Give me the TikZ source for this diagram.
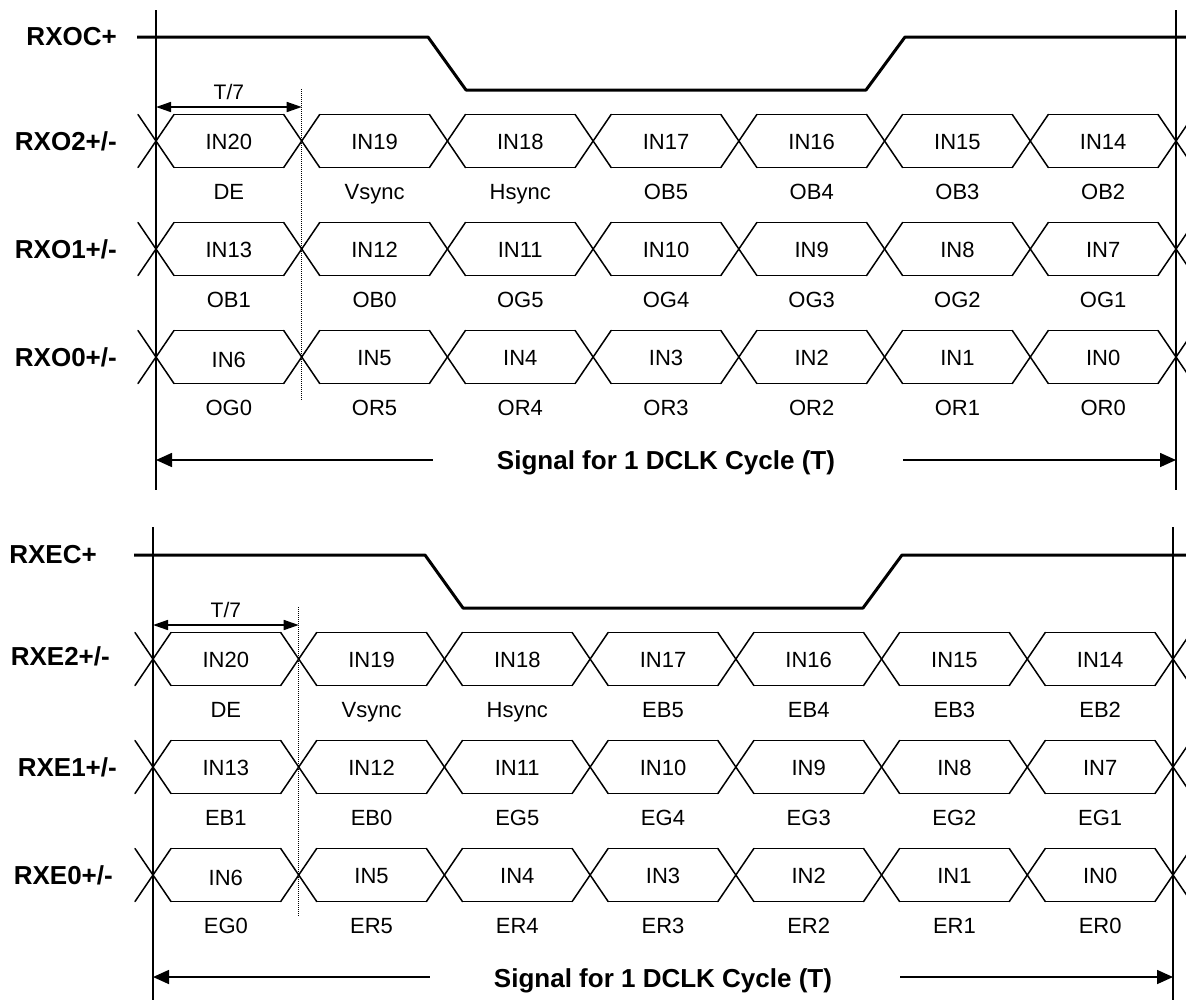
\documentclass[tikz,border=0pt]{standalone}
\usepackage{fontspec}
\setmainfont{Liberation Sans}
\usetikzlibrary{arrows.meta}
\newcommand\datarow[4]{%
  \foreach \k in {0,...,7}{
    \draw[sig] ({156+\k*145.714-18},{#1+26.5}) -- ({156+\k*145.714+18},{#1-26.5});
    \draw[sig] ({156+\k*145.714-18},{#1-26.5}) -- ({156+\k*145.714+18},{#1+26.5});
  }
  \foreach \k in {0,...,6}{
    \draw[sig] ({156+\k*145.714+18},{#1-26.5}) -- ({156+(\k+1)*145.714-18},{#1-26.5});
    \draw[sig] ({156+\k*145.714+18},{#1+26.5}) -- ({156+(\k+1)*145.714-18},{#1+26.5});
  }
  \foreach \t [count=\i from 0] in {#2}
    \node[dat] (#4in\i) at ({156+72.857+\i*145.714},{#1+8}) {\t};
  \foreach \t [count=\i from 0] in {#3}
    \node[dat] (#4sub\i) at ({156+72.857+\i*145.714},{#1+58}) {\t};
}
\begin{document}
\begin{tikzpicture}[x=1pt,y=-1pt,
  sig/.style={line width=1.5pt,line cap=round,line join=round},
  clk/.style={line width=3pt,line join=round},
  edge/.style={line width=1.5pt},
  dat/.style={font=\fontsize{22}{26}\selectfont,inner sep=0pt,anchor=base},
  lbl/.style={font=\fontsize{26}{30}\selectfont\bfseries,inner sep=0pt,anchor=base east},
  sigtxt/.style={font=\fontsize{26}{30}\selectfont\bfseries,inner sep=0pt,anchor=base},
  tsev/.style={font=\fontsize{21}{25}\selectfont,inner sep=0pt,anchor=base},
  bigarrow/.style={-{Triangle[length=16pt,width=14pt]},line width=1.6pt},
  smallarrow/.style={{Triangle[length=15pt,width=10pt]}-{Triangle[length=15pt,width=10pt]},line width=1.6pt},
  dots/.style={densely dotted,line width=1pt},
]
\path[use as bounding box] (0,0) rectangle (1186,1005);
\clip (0,0) rectangle (1186,1005);

% ---------- top (odd) section ----------
\begin{scope}
  \draw[edge] (156,10) -- (156,490);
  \draw[edge] (1176,10) -- (1176,490);
  \draw[clk] (137,37) -- (428,37) -- (466,90) -- (866,90) -- (905,37) -- (1192,37);
  \node[lbl] (rxoc) at (117,45) {RXOC+};
  \node[lbl] (rxo2) at (117,150) {RXO2+/-};
  \node[lbl] (rxo1) at (117,258) {RXO1+/-};
  \node[lbl] (rxo0) at (117,366) {RXO0+/-};
  \coordinate (ot7l) at (156,107);
  \coordinate (ot7r) at (301.714,107);
  \draw[smallarrow] (ot7l) -- (ot7r);
  \node[tsev] (ot7) at (228.9,99) {T/7};
  \draw[dots] (301.714,89) -- (301.714,400);
  \datarow{141}{IN20,IN19,IN18,IN17,IN16,IN15,IN14}{DE,Vsync,Hsync,OB5,OB4,OB3,OB2}{oa}
  \datarow{249}{IN13,IN12,IN11,IN10,IN9,IN8,IN7}{OB1,OB0,OG5,OG4,OG3,OG2,OG1}{ob}
  \datarow{357}{\raisebox{-2pt}{IN6},IN5,IN4,IN3,IN2,IN1,IN0}{OG0,OR5,OR4,OR3,OR2,OR1,OR0}{oc}
  \node[sigtxt] (osig) at (666,469) {Signal for 1 DCLK Cycle (T)};
  \coordinate (oal) at (156,460);
  \coordinate (oar) at (1176,460);
  \coordinate (oals) at (432.7,460);
  \coordinate (oars) at (903,460);
  \draw[bigarrow] (oals) -- (oal);
  \draw[bigarrow] (oars) -- (oar);
\end{scope}

% ---------- bottom (even) section ----------
\begin{scope}[xshift=-3pt,yshift=-518pt]
  \draw[edge] (156,9) -- (156,482);
  \draw[edge] (1176,9) -- (1176,482);
  \draw[clk] (137,37) -- (428,37) -- (466,90) -- (866,90) -- (905,37) -- (1195,37);
  \node[lbl] (rxec) at (100,45) {RXEC+};
  \node[lbl] (rxe2) at (113,147) {RXE2+/-};
  \node[lbl] (rxe1) at (120,258) {RXE1+/-};
  \node[lbl] (rxe0) at (116,366) {RXE0+/-};
  \coordinate (et7l) at (156,107);
  \coordinate (et7r) at (301.714,107);
  \draw[smallarrow] (et7l) -- (et7r);
  \node[tsev] (et7) at (228.9,99) {T/7};
  \draw[dots] (301.714,89) -- (301.714,399);
  \datarow{141}{IN20,IN19,IN18,IN17,IN16,IN15,IN14}{DE,Vsync,Hsync,EB5,EB4,EB3,EB2}{ea}
  \datarow{249}{IN13,IN12,IN11,IN10,IN9,IN8,IN7}{EB1,EB0,EG5,EG4,EG3,EG2,EG1}{eb}
  \datarow{357}{\raisebox{-2pt}{IN6},IN5,IN4,IN3,IN2,IN1,IN0}{EG0,ER5,ER4,ER3,ER2,ER1,ER0}{ec}
  \node[sigtxt] (esig) at (666,469) {Signal for 1 DCLK Cycle (T)};
  \coordinate (eal) at (156,459);
  \coordinate (ear) at (1176,459);
  \coordinate (eals) at (432.7,459);
  \coordinate (ears) at (903,459);
  \draw[bigarrow] (eals) -- (eal);
  \draw[bigarrow] (ears) -- (ear);
\end{scope}
\end{tikzpicture}
\end{document}
